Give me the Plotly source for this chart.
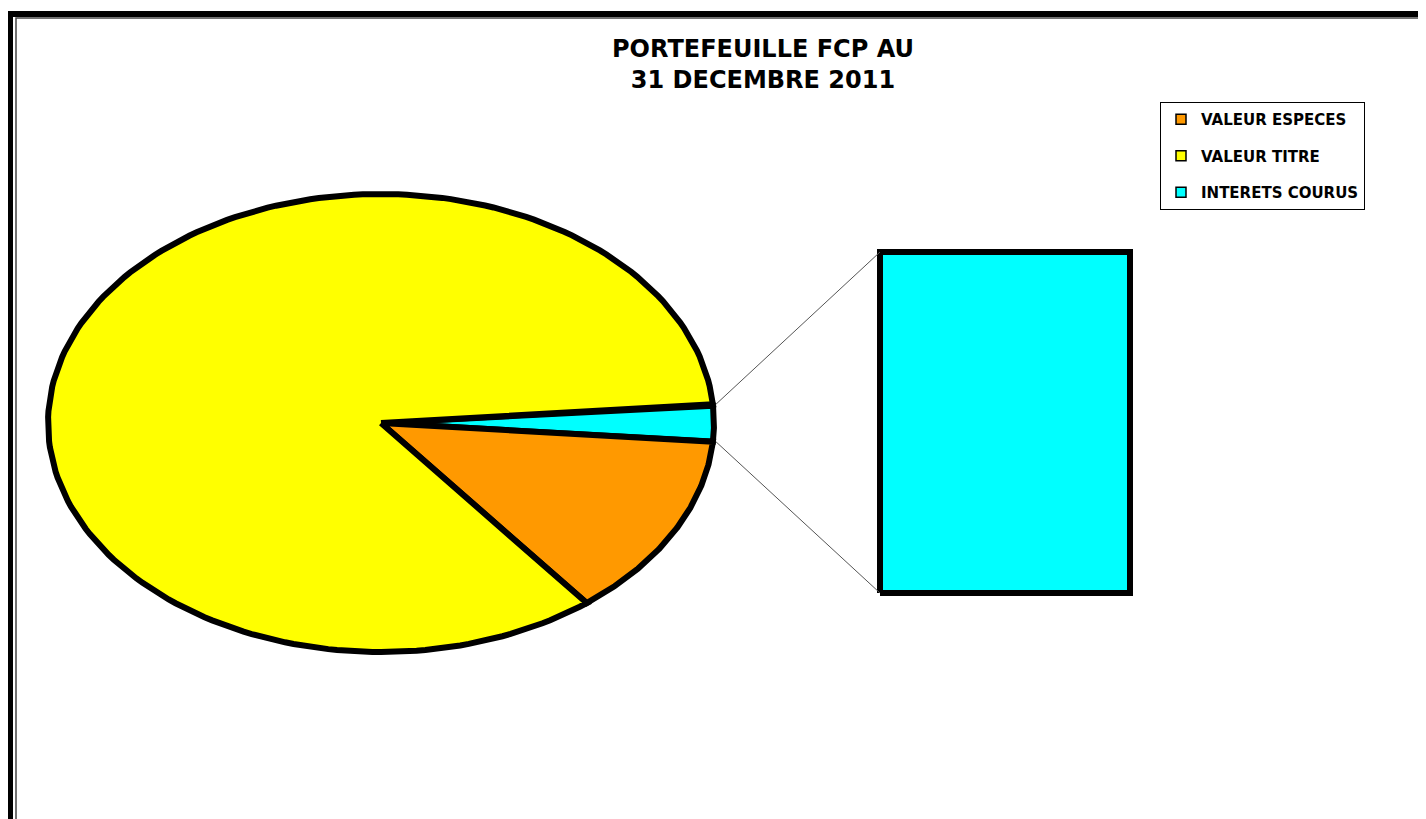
import numpy as np
import plotly.graph_objects as go

# --- données ---
categories = ["VALEUR ESPECES", "VALEUR TITRE", "INTERETS COURUS"]
valeurs = [13.1, 84.3, 2.6]
couleurs = ["#FF9900", "#FFFF00", "#00FFFF"]
# segment "autres" montré dans la barre
barre_categories = ["INTERETS COURUS"]
barre_valeurs = [2.6]

W, H = 1426, 819
OFF = 8  # marge par défaut du <body>
CX, CY, RX, RY = 381, 423, 333, 229          # camembert (ellipse)
BX0, BX1, BY0, BY1 = 880, 1130, 252, 593     # barre de détail


def px_x(p):
    return (p - OFF) / W


def px_y(p):
    return 1 - (p - OFF) / H


fig = go.Figure()

# ordre du camembert : autres (centrée à droite), puis sens horaire
total = sum(valeurs)
autres = sum(barre_valeurs)
a_autres = 360 * autres / total
start = a_autres / 2  # bord supérieur de la tranche "autres"
ordre = [2, 0, 1]
ang = start
bords = {}
for i in ordre:
    span = 360 * valeurs[i] / total
    t = np.radians(np.linspace(ang, ang - span, 200))
    xs = np.concatenate([[CX], CX + RX * np.cos(t), [CX]])
    ys = np.concatenate([[CY], CY - RY * np.sin(t), [CY]])
    fig.add_trace(go.Scatter(
        x=xs, y=ys, mode="lines", fill="toself",
        fillcolor=couleurs[i], line=dict(color="black", width=6),
        showlegend=False, hoverinfo="skip",
    ))
    bords[i] = (ang, ang - span)
    ang -= span

# barre empilée des "autres"
y_bas = BY1
for cat, v in zip(barre_categories, barre_valeurs):
    h = (BY1 - BY0) * v / autres
    fig.add_trace(go.Scatter(
        x=[BX0, BX1, BX1, BX0, BX0], y=[y_bas, y_bas, y_bas - h, y_bas - h, y_bas],
        mode="lines", fill="toself", fillcolor=couleurs[categories.index(cat)],
        line=dict(color="black", width=6), showlegend=False, hoverinfo="skip",
    ))
    y_bas -= h

# lignes de liaison
a1, a2 = bords[2]
for a, by in [(a1, BY0), (a2, BY1)]:
    r = np.radians(a)
    fig.add_trace(go.Scatter(
        x=[CX + RX * np.cos(r) + 3, BX0], y=[CY - RY * np.sin(r), by],
        mode="lines", line=dict(color="#555555", width=1),
        showlegend=False, hoverinfo="skip",
    ))

# légende
for i, cat in enumerate(categories):
    fig.add_trace(go.Scatter(
        x=[None], y=[None], mode="markers", name=cat, legendgroup=cat,
        marker=dict(symbol="square", size=10, color=couleurs[i],
                    line=dict(color="black", width=1.5)),
    ))

fig.update_layout(
    width=W, height=H,
    margin=dict(l=0, r=0, t=0, b=0),
    paper_bgcolor="white", plot_bgcolor="white",
    xaxis=dict(range=[OFF, W + OFF], visible=False, fixedrange=True),
    yaxis=dict(range=[H + OFF, OFF], visible=False, fixedrange=True),
    annotations=[dict(
        text="<b>PORTEFEUILLE FCP AU<br>31 DECEMBRE 2011</b>",
        xref="paper", yref="paper", x=px_x(763), y=px_y(33),
        xanchor="center", yanchor="top", showarrow=False, align="center",
        font=dict(family="Verdana, DejaVu Sans", size=24, color="black"),
    )],
    legend=dict(
        x=px_x(1160), y=px_y(102), xanchor="left", yanchor="top",
        bgcolor="white", bordercolor="black", borderwidth=1,
        font=dict(family="Verdana, DejaVu Sans", size=15, color="black", weight="bold"),
        traceorder="grouped", tracegroupgap=14,
    ),
    shapes=[
        dict(type="rect", xref="x", yref="y", x0=10, y0=14, x1=W + 30, y1=H + 30,
             line=dict(color="black", width=6)),
        dict(type="rect", xref="x", yref="y", x0=16, y0=18, x1=W + 30, y1=H + 30,
             line=dict(color="#444444", width=1.5)),
    ],
)

fig.write_html("out.html")
